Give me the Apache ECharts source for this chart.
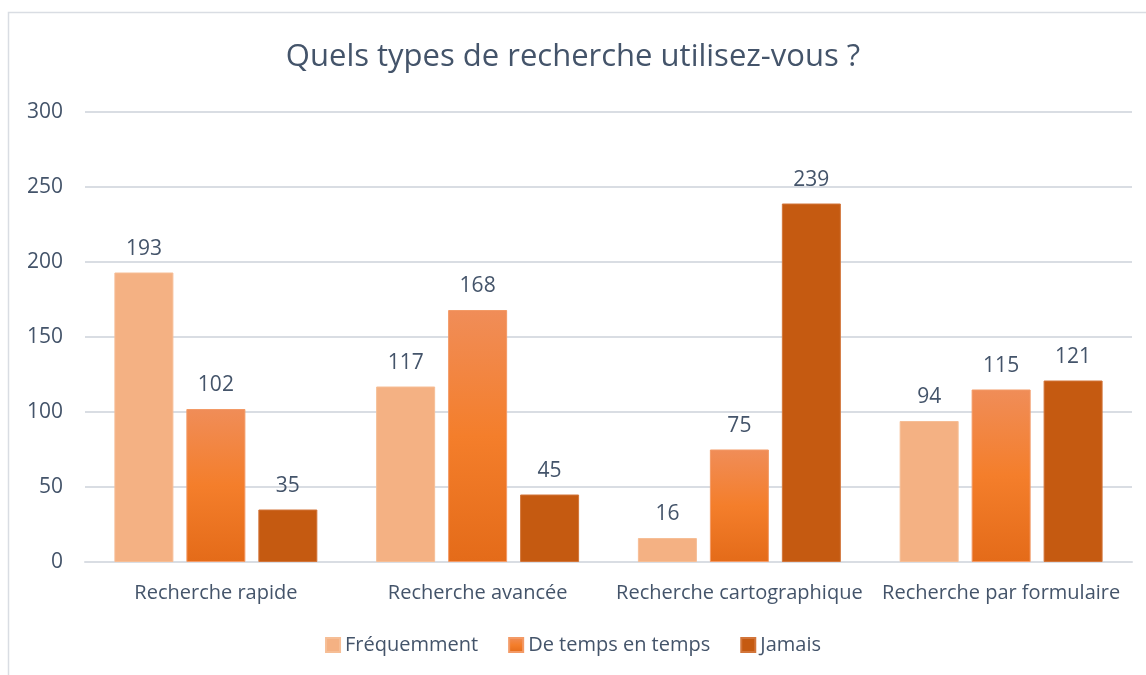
<!DOCTYPE html>
<html>
<head>
<meta charset="utf-8">
<title>Quels types de recherche utilisez-vous ?</title>
<script src="https://cdn.jsdelivr.net/npm/echarts@6/dist/echarts.min.js"></script>
<style>
	html, body { margin: 0; padding: 0; background: #fff; }
	#chart { width: 1146px; height: 675px; }
</style>
</head>
<body>
<div id="chart"></div>
<script>
// donnees
var categories = ['Recherche rapide', 'Recherche avancée', 'Recherche cartographique', 'Recherche par formulaire'];
var seriesNames = ['Fréquemment', 'De temps en temps', 'Jamais'];
var frequemment = [193, 117, 16, 94];
var deTempsEnTemps = [102, 168, 75, 115];
var jamais = [35, 45, 239, 121];
var yTicks = [0, 50, 100, 150, 200, 250, 300];

(function(){
	var myChart = echarts.init(document.getElementById('chart'));
	var textColor = '#44546A';
	var font = '"Open Sans", "Noto Sans", sans-serif';

	var colors = [
		'#F4B183',
		new echarts.graphic.LinearGradient(0, 0, 0, 1, [
			{offset: 0, color: '#F08D58'},
			{offset: 0.5, color: '#F47E2B'},
			{offset: 1, color: '#E46B19'}
		]),
		'#C55A11'
	];
	var borders = ['#F6BE96', '#F39A66', '#D2753A'];
	var values = [frequemment, deTempsEnTemps, jamais];

	var series = [];
	for (var i = 0; i < 3; i++) {
		series.push({
			name: seriesNames[i],
			type: 'bar',
			barWidth: 59,
			barGap: '22%',
			itemStyle: {
				color: colors[i],
				borderColor: borders[i],
				borderWidth: 1
			},
			label: {
				show: true,
				position: 'top',
				distance: 13,
				color: textColor,
				fontSize: 21,
				fontFamily: font
			},
			data: values[i]
		});
	}

	var option = {
		animation: false,
		title: {
			text: 'Quels types de recherche utilisez-vous ?',
			left: 'center',
			top: 37,
			textStyle: {
				color: textColor,
				fontSize: 31,
				fontWeight: 'normal',
				fontFamily: font
			}
		},
		graphic: [{
			type: 'rect',
			shape: {x: 8.5, y: 12.5, width: 1160, height: 700},
			style: {fill: 'none', stroke: '#D9DDE3', lineWidth: 1.5},
			silent: true
		}],
		legend: {
			data: seriesNames,
			bottom: 15,
			left: 'center',
			itemWidth: 14,
			itemHeight: 14,
			itemGap: 30,
			icon: 'rect',
			textStyle: {
				color: textColor,
				fontSize: 20,
				fontFamily: font
			}
		},
		grid: {
			left: 85,
			right: 14,
			top: 112,
			bottom: 113,
			containLabel: false
		},
		xAxis: {
			type: 'category',
			data: categories,
			axisLine: {lineStyle: {color: '#D9DDE3', width: 2}},
			axisTick: {show: false},
			axisLabel: {
				interval: 0,
				color: textColor,
				fontSize: 20,
				fontFamily: font,
				margin: 21
			}
		},
		yAxis: {
			type: 'value',
			min: yTicks[0],
			max: yTicks[yTicks.length - 1],
			interval: 50,
			axisLine: {show: false},
			axisTick: {show: false},
			splitLine: {lineStyle: {color: '#D9DDE3', width: 2}},
			axisLabel: {
				color: textColor,
				fontSize: 21,
				fontFamily: font,
				margin: 22
			}
		},
		series: series
	};

	myChart.setOption(option, true);
}());
</script>
</body>
</html>
